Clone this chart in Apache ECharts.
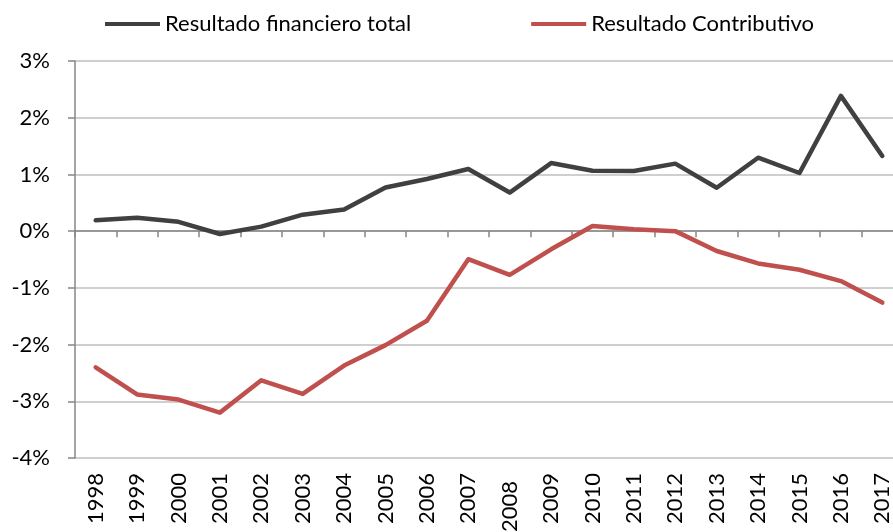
<!DOCTYPE html>
<html><head><meta charset="utf-8">
<script src="https://cdn.jsdelivr.net/npm/echarts@6/dist/echarts.min.js"></script>
<style>html,body{margin:0;padding:0;background:#fff}#c{width:893px;height:532px}</style>
</head><body><div id="c"></div>
<script>
const years = ['1998','1999','2000','2001','2002','2003','2004','2005','2006','2007','2008','2009','2010','2011','2012','2013','2014','2015','2016','2017'];
const financieroTotal = [0.19,0.235,0.165,-0.05,0.08,0.29,0.38,0.77,0.92,1.095,0.68,1.20,1.065,1.06,1.19,0.765,1.295,1.025,2.385,1.325];
const contributivo = [-2.40,-2.88,-2.97,-3.20,-2.63,-2.87,-2.37,-2.01,-1.58,-0.495,-0.77,-0.32,0.09,0.035,0.0,-0.35,-0.57,-0.68,-0.88,-1.26];
const yTicks = {min:-4, max:3, interval:1};

const FONT = 'Lato';
const chart = echarts.init(document.getElementById('c'));
chart.setOption({
  animation:false,
  backgroundColor:'#fff',
  legend:{
    top:8, left:100, itemWidth:55, itemHeight:4, itemGap:120,
    icon:'rect',
    textStyle:{fontFamily:FONT, fontSize:22, color:'#000', padding:[0,0,0,0]},
    data:['Resultado financiero total','Resultado Contributivo']
  },
  grid:{left:75, width:828, top:61, bottom:74, containLabel:false, outerBoundsMode:'none'},
  xAxis:[{
    type:'category', data:years, boundaryGap:true,
    axisLine:{onZero:true, lineStyle:{color:'#868686', width:1.5}},
    axisTick:{show:true, inside:false, length:6, lineStyle:{color:'#868686', width:1.5}},
    axisLabel:{show:false}, splitLine:{show:false}
  },{
    type:'category', data:years.map(y => y==='2008' ? {value:y, textStyle:{padding:[0,8,0,0]}} : y),
    boundaryGap:true, position:'bottom',
    axisLine:{show:false, onZero:false}, axisTick:{show:false},
    axisLabel:{rotate:90, margin:15, interval:0, fontFamily:FONT, fontSize:22, color:'#000'},
    splitLine:{show:false}
  }],
  yAxis:{
    type:'value', min:yTicks.min, max:yTicks.max, interval:yTicks.interval,
    axisLine:{show:true, lineStyle:{color:'#868686', width:1.5}},
    axisTick:{show:true, length:7, lineStyle:{color:'#868686', width:1.5}},
    axisLabel:{formatter:v=>v+'%', margin:25, fontFamily:FONT, fontSize:22, color:'#000'},
    splitLine:{show:true, lineStyle:{color:'#bfbfbf', width:1.5}}
  },
  series:[{
    name:'Resultado financiero total', type:'line', data:financieroTotal,
    xAxisIndex:0, symbol:'none', color:'#404040',
    lineStyle:{width:4.5, color:'#404040', cap:'round', join:'round'}
  },{
    name:'Resultado Contributivo', type:'line', data:contributivo,
    xAxisIndex:0, symbol:'none', color:'#c0504d',
    lineStyle:{width:4.5, color:'#c0504d', cap:'round', join:'round'}
  }]
});
</script></body></html>
